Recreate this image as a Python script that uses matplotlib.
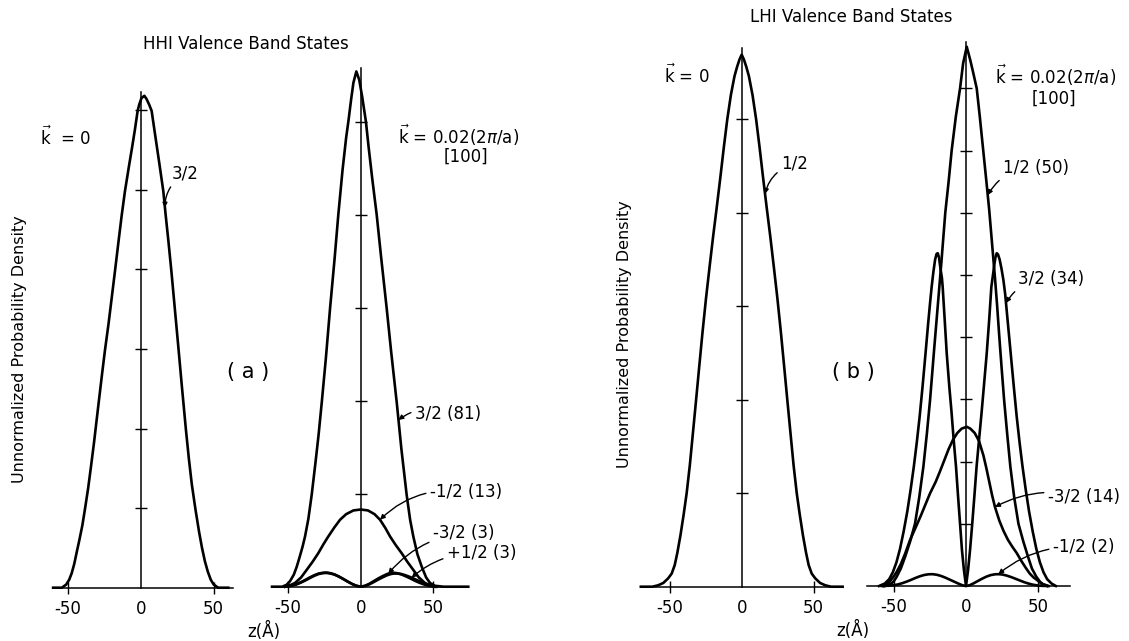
import numpy as np
import matplotlib
matplotlib.use("Agg")
import matplotlib.pyplot as plt

plt.rcParams['font.family'] = ['DejaVu Sans']
plt.rcParams['axes.unicode_minus'] = False
plt.rcParams['mathtext.fontset'] = 'dejavusans'

# ---------------- data ----------------
# (a) HHI, k = 0 : state 3/2
hh0_z = [-60, -54, -51, -49, -47.3, -45.5, -43.9, -42, -40, -38.2, -36, -34, -32, -30.1,
         -28.5, -26.5, -24.5, -22, -20, -17.6, -15, -13, -10.8, -8, -6, -4, -2.1, -1,
         0.5, 2.5, 4, 6, 7.5, 9, 11, 13, 15.5, 17, 19, 21, 23, 26, 28, 31, 33, 35,
         37.5, 40, 42, 44, 46, 48, 50, 53, 60]
hh0_32 = [0.0, 0.0, 0.04, 0.1, 0.18, 0.3, 0.44, 0.6, 0.78, 0.985, 1.25, 1.53, 1.82, 2.12,
          2.37, 2.68, 2.98, 3.32, 3.62, 3.98, 4.38, 4.68, 4.98, 5.3, 5.52, 5.75, 5.99, 6.07,
          6.15, 6.18, 6.14, 6.06, 5.99, 5.8, 5.55, 5.3, 4.98, 4.7, 4.35, 3.98, 3.58, 2.98,
          2.57, 1.98, 1.62, 1.3, 0.985, 0.7, 0.5, 0.33, 0.2, 0.1, 0.04, 0.0, 0.0]

# (a) HHI, k = 0.02(2pi/a) [100]
hhk_z_32 = [-61, -54, -51, -48.6, -46, -44, -42, -40, -38.3, -36, -33.7, -31, -29, -26.8,
            -24, -21.1, -18, -15.4, -12.5, -10, -8.5, -6.5, -5, -3, -1, 1, 3.6, 5.5, 8,
            11, 14, 17.9, 21, 24.8, 28, 31.6, 34, 36.2, 39, 42, 45, 47.7, 51, 57, 74]
hhk_32 = [0.0, 0.0, 0.02, 0.06, 0.13, 0.215, 0.32, 0.43, 0.54, 0.73, 0.99, 1.35, 1.63, 1.98,
          2.45, 2.99, 3.52, 4.0, 4.48, 4.83, 5.0, 5.25, 5.42, 5.54, 5.45, 5.27, 5.0, 4.72, 4.38,
          4.0, 3.55, 2.99, 2.52, 1.98, 1.48, 0.99, 0.72, 0.54, 0.35, 0.215, 0.1, 0.04, 0.01, 0.0, 0.0]
hhk_z_m12 = [-52, -48, -45.2, -41, -37.2, -33, -29.2, -25.5, -22.3, -18, -14.2, -10, -5, 0,
             5, 9.5, 13.3, 17, 20.2, 24, 28.2, 32, 36.2, 40, 44.2, 47, 51]
hhk_m12 = [0.0, 0.02, 0.04, 0.1, 0.18, 0.27, 0.36, 0.46, 0.54, 0.64, 0.72, 0.78, 0.82, 0.83,
           0.82, 0.78, 0.72, 0.63, 0.54, 0.45, 0.36, 0.27, 0.18, 0.1, 0.04, 0.02, 0.0]
hhk_z_small = [-52, -50, -47, -44, -41, -38, -35, -32, -29, -26, -23.5, -21, -18, -15, -12,
               -9, -6, -3, 0, 3, 6, 9, 12, 15, 18, 20.5, 22.5, 25, 28, 31, 34, 37, 40, 43,
               46, 49, 52]
hhk_m32 = [0.0, 0.004, 0.012, 0.025, 0.045, 0.068, 0.093, 0.117, 0.136, 0.146, 0.148, 0.143,
           0.13, 0.108, 0.082, 0.055, 0.03, 0.01, 0.0, 0.01, 0.032, 0.06, 0.088, 0.113, 0.135,
           0.147, 0.15, 0.146, 0.132, 0.112, 0.09, 0.066, 0.045, 0.027, 0.013, 0.004, 0.0]
hhk_p12 = [0.0, 0.005, 0.015, 0.03, 0.05, 0.074, 0.1, 0.123, 0.141, 0.15, 0.152, 0.146,
           0.132, 0.11, 0.084, 0.056, 0.03, 0.01, 0.0, 0.008, 0.026, 0.05, 0.076, 0.1, 0.122,
           0.135, 0.141, 0.142, 0.136, 0.122, 0.104, 0.083, 0.062, 0.042, 0.024, 0.009, 0.0]

# (b) LHI, k = 0 : state 1/2
lh0_z = [-70, -62, -58, -54.4, -51, -48.6, -46.5, -44.7, -42.5, -40.3, -38.2, -36, -34,
         -31.7, -29.5, -27.2, -24.8, -22.3, -19.8, -17.3, -14.8, -12.4, -10, -7.5, -5,
         -3.2, -1.5, 0, 1.5, 3.2, 5, 7.5, 10, 12.4, 14.8, 17.3, 19.8, 22.3, 24.8, 27.2,
         29.5, 31.7, 34, 36, 38.2, 40.3, 42.5, 44.7, 46.5, 48.6, 51, 54.4, 58, 62, 70]
lh0_12 = [0.0, 0.0, 0.015, 0.04, 0.09, 0.14, 0.23, 0.36, 0.55, 0.77, 1.0, 1.3, 1.62,
          1.99, 2.35, 2.72, 3.08, 3.42, 3.75, 4.06, 4.38, 4.7, 5.0, 5.26, 5.46,
          5.56, 5.64, 5.69, 5.64, 5.56, 5.46, 5.26, 5.0, 4.7, 4.38, 4.06, 3.75, 3.42, 3.08,
          2.72, 2.35, 1.99, 1.62, 1.3, 1.0, 0.77, 0.55, 0.36, 0.23, 0.14, 0.09, 0.04, 0.015,
          0.0, 0.0]

# (b) LHI, k = 0.02(2pi/a) [100]
lhk_z_12 = [-56, -52, -50, -47.8, -45, -42, -38.5, -35.2, -32.3, -29.4, -27, -24.8, -22,
            -19.5, -17, -14.3, -12, -9.9, -7, -4.1, -2, 0.5, 3, 5, 7.4, 9.5, 11.9, 14, 16,
            18, 20, 21.5, 23, 24.6, 26.3, 28.4, 30.6, 33.3, 36.2, 39.5, 42.8, 45.5,
            48.5, 51, 53, 57]
lhk_12 = [0.0, 0.03, 0.07, 0.15, 0.28, 0.47, 0.72, 1.0, 1.42, 1.92, 2.45, 2.99, 3.8,
          4.5, 5.2, 6.0, 6.5, 7.0, 7.55, 8.0, 8.4, 8.67, 8.45, 8.25, 8.0, 7.55, 7.0, 6.52, 6.05,
          5.5, 4.95, 4.5, 4.0, 3.5, 2.99, 2.45, 1.92, 1.42, 1.0, 0.72, 0.47, 0.28,
          0.15, 0.07, 0.03, 0.0]
lhk_z_32 = [-60, -56, -53, -50.5, -48, -45.5, -43, -40.5, -38.2, -36, -34, -32, -30,
            -28, -26, -24.8, -23.7, -22.5, -21.3, -20.3, -19.5, -18.6, -17.6, -16.6,
            -16.1, -14.7, -13.3, -11.5, -10, -8.5, -6.9, -5.5, -4.1, -2.8, -1.4, 0,
            1.4, 2.8, 4.3, 5.8, 7.3, 9, 10.8, 12.3, 14.3, 16, 17.5, 18.9, 19.6, 20.3, 21.2,
            22.1, 23.2, 24.5, 25.8, 27, 29, 31, 33, 35, 37, 39, 41.2, 43.5, 46, 48.5, 51,
            53.5, 56, 59, 62]
lhk_32 = [0.0, 0.04, 0.11, 0.22, 0.38, 0.6, 0.88, 1.2, 1.55, 1.92, 2.3, 2.72, 3.2,
          3.72, 4.25, 4.55, 4.81, 5.05, 5.25, 5.34, 5.35, 5.28, 5.1, 4.95,
          4.81, 4.28, 3.74, 3.2, 2.8, 2.35, 1.92, 1.45, 1.0, 0.58, 0.25, 0.0,
          0.25, 0.58, 1.0, 1.45, 1.92, 2.35, 2.8, 3.2, 3.74, 4.28, 4.81, 5.05, 5.18, 5.28, 5.35,
          5.33, 5.25, 5.1, 4.92, 4.7, 4.2, 3.7, 3.2, 2.72, 2.3, 1.92, 1.55, 1.2, 0.88, 0.6,
          0.38, 0.22, 0.11, 0.04, 0.0]
lhk_z_m32 = [-57, -53, -50, -48, -45, -42, -38.6, -34, -31, -28, -24.8, -21, -18, -15, -12,
             -9, -6, -3, 0.5, 3, 6, 9, 12, 14, 16, 18, 20, 23, 26, 29, 32, 35, 38, 41, 44,
             46.5, 48.8, 52, 56]
lhk_m32 = [0.0, 0.06, 0.15, 0.22, 0.35, 0.52, 0.74, 0.98, 1.14, 1.31, 1.49, 1.67, 1.84, 2.02,
           2.2, 2.35, 2.46, 2.53, 2.56, 2.53, 2.46, 2.33, 2.1, 1.9, 1.68, 1.46, 1.27, 1.05,
           0.88, 0.74, 0.63, 0.53, 0.41, 0.3, 0.2, 0.14, 0.1, 0.04, 0.0]
lhk_z_m12 = [-58, -53, -50, -47, -44, -41, -38, -35, -32, -29, -26, -23, -20, -17, -14,
             -11, -8, -5, -2.5, 0, 2.5, 5, 8, 11, 14, 17, 20, 22.3, 25, 28, 31, 34, 37, 40,
             43, 46, 49, 52, 56]
lhk_m12 = [0.0, 0.005, 0.012, 0.025, 0.045, 0.07, 0.098, 0.128, 0.155, 0.176, 0.188, 0.19,
           0.18, 0.16, 0.132, 0.1, 0.068, 0.036, 0.012, 0.0, 0.012, 0.04, 0.078, 0.116, 0.15,
           0.175, 0.188, 0.19, 0.185, 0.168, 0.145, 0.118, 0.09, 0.063, 0.04, 0.022, 0.01,
           0.003, 0.0]

xticks = [-50, 0, 50]
xticklabels = ['-50', '0', '50']

# ---------------- figure ----------------
W, H = 1129, 641
fig = plt.figure(figsize=(W / 100, H / 100), dpi=100)

LW_CURVE = 1.9
LW_AXIS = 1.1
FS = 12


def make_axes(x0px, px_per_A, xlim, base_px, px_per_unit, ytop, spine_top, nticks):
    left = x0px + xlim[0] * px_per_A
    right = x0px + xlim[1] * px_per_A
    ax = fig.add_axes([left / W, (H - base_px) / H, (right - left) / W,
                       ytop * px_per_unit / H])
    ax.set_xlim(*xlim)
    ax.set_ylim(0, ytop)
    ax.patch.set_alpha(0)
    for s in ('top', 'right'):
        ax.spines[s].set_visible(False)
    ax.spines['left'].set_position(('data', 0))
    ax.spines['left'].set_bounds(0, spine_top)
    ax.spines['left'].set_linewidth(LW_AXIS)
    ax.spines['bottom'].set_linewidth(LW_AXIS)
    ax.set_yticks(np.arange(1, nticks + 1))
    ax.set_yticklabels([])
    ax.tick_params(axis='y', direction='inout', length=8.5, width=1.0)
    ax.set_xticks(xticks)
    ax.set_xticklabels(xticklabels, fontsize=FS)
    ax.tick_params(axis='x', direction='inout', length=9, width=1.0, pad=4)
    ax.xaxis.get_major_ticks()[1].tick1line.set_visible(False)
    return ax


ax1 = make_axes(140.7, 1 / 0.685, (-60, 63), 587.7, 79.6, 7.0, 6.23, 6)
ax2 = make_axes(360.7, 1 / 0.688, (-61, 74), 586.7, 93.0, 6.3, 5.58, 5)
ax3 = make_axes(741.7, 1 / 0.694, (-69, 70), 586.7, 93.5, 6.3, 5.76, 5)
ax4 = make_axes(966.0, 1 / 0.690, (-68, 72), 586.0, 62.2, 9.3, 8.75, 8)

kw = dict(color='black', lw=LW_CURVE, solid_joinstyle='round', clip_on=False)
ax1.plot(hh0_z, hh0_32, **kw)
ax2.plot(hhk_z_32, hhk_32, **kw)
ax2.plot(hhk_z_m12, hhk_m12, **kw)
ax2.plot(hhk_z_small, hhk_m32, **kw)
ax2.plot(hhk_z_small, hhk_p12, **kw)
ax3.plot(lh0_z, lh0_12, **kw)
ax4.plot(lhk_z_12, lhk_12, **kw)
ax4.plot(lhk_z_32, lhk_32, **kw)
ax4.plot(lhk_z_m32, lhk_m32, **kw)
ax4.plot(lhk_z_m12, lhk_m12, **kw)


def ftext(x, y, s, **k):
    fig.text(x / W, 1 - y / H, s, **k)


def label(ax, s, zt, zs, hs, tx, ty, rad=0.2):
    ax.annotate(s, xy=(zt, float(np.interp(zt, zs, hs))), xycoords='data',
                xytext=(tx, H - ty), textcoords='figure pixels',
                ha='left', va='center', fontsize=FS,
                arrowprops=dict(arrowstyle='-|>', color='black', lw=1.0,
                                mutation_scale=7, shrinkA=1, shrinkB=0,
                                connectionstyle='arc3,rad=%g' % rad))


kvec = r'$\vec{\mathrm{k}}$'
# titles and panel texts
ftext(246, 44, 'HHI Valence Band States', ha='center', va='center', fontsize=FS)
ftext(851, 17, 'LHI Valence Band States', ha='center', va='center', fontsize=FS)
ftext(40, 137, kvec + '  = 0', ha='left', va='center', fontsize=FS)
ftext(398, 135, kvec + ' = 0.02(2$\\pi$/a)', ha='left', va='center', fontsize=FS)
ftext(466, 157, '[100]', ha='center', va='center', fontsize=FS)
ftext(664, 75, kvec + ' = 0', ha='left', va='center', fontsize=FS)
ftext(995, 75, kvec + ' = 0.02(2$\\pi$/a)', ha='left', va='center', fontsize=FS)
ftext(1054, 99, '[100]', ha='center', va='center', fontsize=FS)
ftext(248, 372, '( a )', ha='center', va='center', fontsize=15)
ftext(853, 372, '( b )', ha='center', va='center', fontsize=15)
ftext(20, 349, 'Unnormalized Probability Density', ha='center', va='center',
      rotation=90, fontsize=11.5)
ftext(625, 334, 'Unnormalized Probability Density', ha='center', va='center',
      rotation=90, fontsize=11.5)
ftext(264, 631, 'z(Å)', ha='center', va='center', fontsize=FS)
ftext(853, 630, 'z(Å)', ha='center', va='center', fontsize=FS)

# curve labels with leaders
label(ax1, '3/2', 16.6, hh0_z, hh0_32, 172, 174, rad=0.3)
label(ax2, '3/2 (81)', 26.0, hhk_z_32, hhk_32, 415, 414, rad=0.3)
label(ax2, '-1/2 (13)', 13.3, hhk_z_m12, hhk_m12, 430, 492, rad=0.25)
label(ax2, '-3/2 (3)', 19.0, hhk_z_small, hhk_m32, 433, 533, rad=0.2)
label(ax2, '+1/2 (3)', 35.0, hhk_z_small, hhk_p12, 447, 553, rad=0.2)
label(ax3, '1/2', 16.2, lh0_z, lh0_12, 781, 164, rad=0.3)
label(ax4, '1/2 (50)', 15.0, lhk_z_12, lhk_12, 1003, 168, rad=0.3)
label(ax4, '3/2 (34)', 27.6, lhk_z_32, lhk_32, 1018, 279, rad=0.3)
label(ax4, '-3/2 (14)', 20.0, lhk_z_m32, lhk_m32, 1048, 497, rad=0.2)
label(ax4, '-1/2 (2)', 22.3, lhk_z_m12, lhk_m12, 1053, 547, rad=0.2)

fig.savefig('out.png', dpi=100, facecolor='white')
